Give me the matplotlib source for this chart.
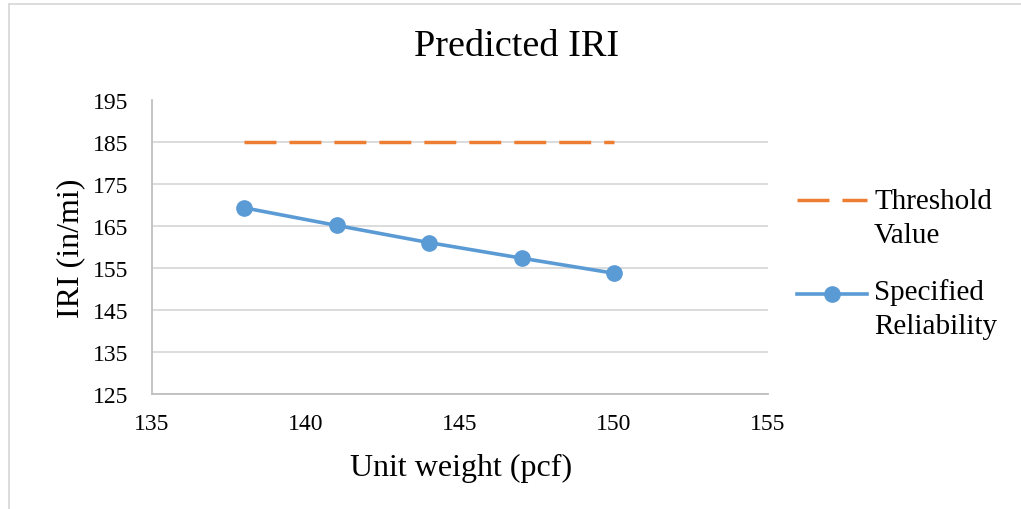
import matplotlib.pyplot as plt
from matplotlib.lines import Line2D

# unit weight (pcf) vs predicted IRI (in/mi)
unit_weight = [138, 141, 144, 147, 150]
iri_reliability = [169.4, 165.2, 161.1, 157.4, 153.8]
iri_threshold = [185, 185, 185, 185, 185]

x_ticks = [135, 140, 145, 150, 155]
y_ticks = [125, 135, 145, 155, 165, 175, 185, 195]

BLUE = "#5b9bd5"
ORANGE = "#ed7d31"
GRID = "#d9d9d9"
W, H = 1021, 510

plt.rcParams['font.family'] = ['Liberation Serif', 'DejaVu Serif']

fig = plt.figure(figsize=(W / 100, H / 100), dpi=100)
ax = fig.add_axes([152 / W, 1 - 395 / H, 616 / W, 293.5 / H])

thr_style = dict(color=ORANGE, linewidth=2.5, dashes=(9.2, 3.75))
rel_style = dict(color=BLUE, linewidth=2.6, marker="o", markersize=11)

ax.plot(unit_weight, iri_threshold, **thr_style)
ax.plot(unit_weight, iri_reliability, **rel_style)

ax.set_xlim(135, 155)
ax.set_ylim(125, 195)
ax.set_xticks(x_ticks)
ax.set_yticks(y_ticks)
ax.tick_params(axis="both", length=0, labelsize=17)
ax.tick_params(axis="y", pad=17)
ax.tick_params(axis="x", pad=14)

ax.grid(axis="y", color=GRID, linewidth=1.3)
ax.set_axisbelow(True)
for side in ["top", "right"]:
    ax.spines[side].set_visible(False)
for side in ["left", "bottom"]:
    ax.spines[side].set_color("#bfbfbf")
    ax.spines[side].set_linewidth(1.3)

fig.text(517 / W, 1 - 47 / H, "Predicted IRI", ha="center", va="center", fontsize=27.5)
fig.text(461 / W, 1 - 468 / H, "Unit weight (pcf)", ha="center", va="center", fontsize=23)
fig.text(71 / W, 1 - 248 / H, "IRI (in/mi)", ha="center", va="center",
         rotation=90, fontsize=23)

# legend: handle sits on the first line of each two-line label
legend_items = [
    (thr_style, ["Threshold", "Value"], 200.5, 209),
    (rel_style, ["Specified", "Reliability"], 295, 300),
]
for style, lines, handle_y, base_y in legend_items:
    hx = [797 / W, 832 / W, 867 / W]
    fig.add_artist(Line2D(hx, [1 - handle_y / H] * 3, transform=fig.transFigure,
                          markevery=[1], **style))
    for i, text in enumerate(lines):
        fig.text(874 / W, 1 - (base_y + 34 * i) / H, text, ha="left", va="baseline",
                 fontsize=21)

# thin frame around the chart area
fig.add_artist(Line2D([9 / W, 9 / W], [0, 1 - 5 / H], transform=fig.transFigure,
                      color=GRID, linewidth=1.3))
fig.add_artist(Line2D([9 / W, 1], [1 - 5 / H, 1 - 5 / H], transform=fig.transFigure,
                      color=GRID, linewidth=1.3))

fig.savefig("out.png", dpi=100)
